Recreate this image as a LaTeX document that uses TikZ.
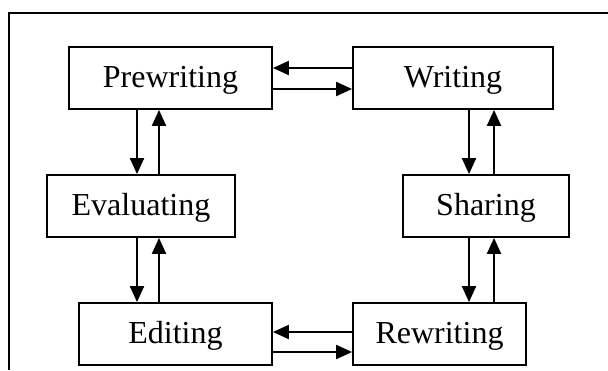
\documentclass[tikz,border=0pt]{standalone}
\usepackage{fontspec}
\setmainfont{Liberation Serif}
\usetikzlibrary{arrows.meta}

\begin{document}
\begin{tikzpicture}[x=0.5pt,y=-0.5pt,
    box/.style={rectangle, draw, line width=0.9pt, inner sep=0pt,
      minimum height=31pt, text height=11pt, text depth=2pt,
      font=\fontsize{16}{19}\selectfont},
    arr/.style={line width=1pt, -{Triangle[length=8pt,width=7pt]}}]
  \useasboundingbox (0,0) rectangle (608,370);
  % frame
  \draw[line width=0.7pt] (608,13) -- (9,13) -- (9,370);
  % stages
  \node [box, minimum width=101.5pt] (pre) at (170.5,78) {Prewriting};
  \node [box, minimum width=100pt] (wri) at (453,78) {Writing};
  \node [box, minimum width=94pt] (eva) at (141,206) {Evaluating};
  \node [box, minimum width=83pt] (sha) at (486,206) {Sharing};
  \node [box, minimum width=96.5pt] (edi) at (175.5,334) {Editing};
  \node [box, minimum width=86.5pt] (rew) at (439.5,334) {Rewriting};
  % arrow lanes
  \coordinate (ldn) at (137,0);
  \coordinate (lup) at (159,0);
  \coordinate (rdn) at (469,0);
  \coordinate (rup) at (494,0);
  \coordinate (ttop) at (0,68);
  \coordinate (tbot) at (0,89);
  \coordinate (btop) at (0,332);
  \coordinate (bbot) at (0,352);
  % top row
  \draw[arr] (wri.west |- ttop) -- (pre.east |- ttop);
  \draw[arr] (pre.east |- tbot) -- (wri.west |- tbot);
  % bottom row
  \draw[arr] (rew.west |- btop) -- (edi.east |- btop);
  \draw[arr] (edi.east |- bbot) -- (rew.west |- bbot);
  % left column
  \draw[arr] (pre.south -| ldn) -- (eva.north -| ldn);
  \draw[arr] (eva.north -| lup) -- (pre.south -| lup);
  \draw[arr] (eva.south -| ldn) -- (edi.north -| ldn);
  \draw[arr] (edi.north -| lup) -- (eva.south -| lup);
  % right column
  \draw[arr] (wri.south -| rdn) -- (sha.north -| rdn);
  \draw[arr] (sha.north -| rup) -- (wri.south -| rup);
  \draw[arr] (sha.south -| rdn) -- (rew.north -| rdn);
  \draw[arr] (rew.north -| rup) -- (sha.south -| rup);
\end{tikzpicture}
\end{document}
